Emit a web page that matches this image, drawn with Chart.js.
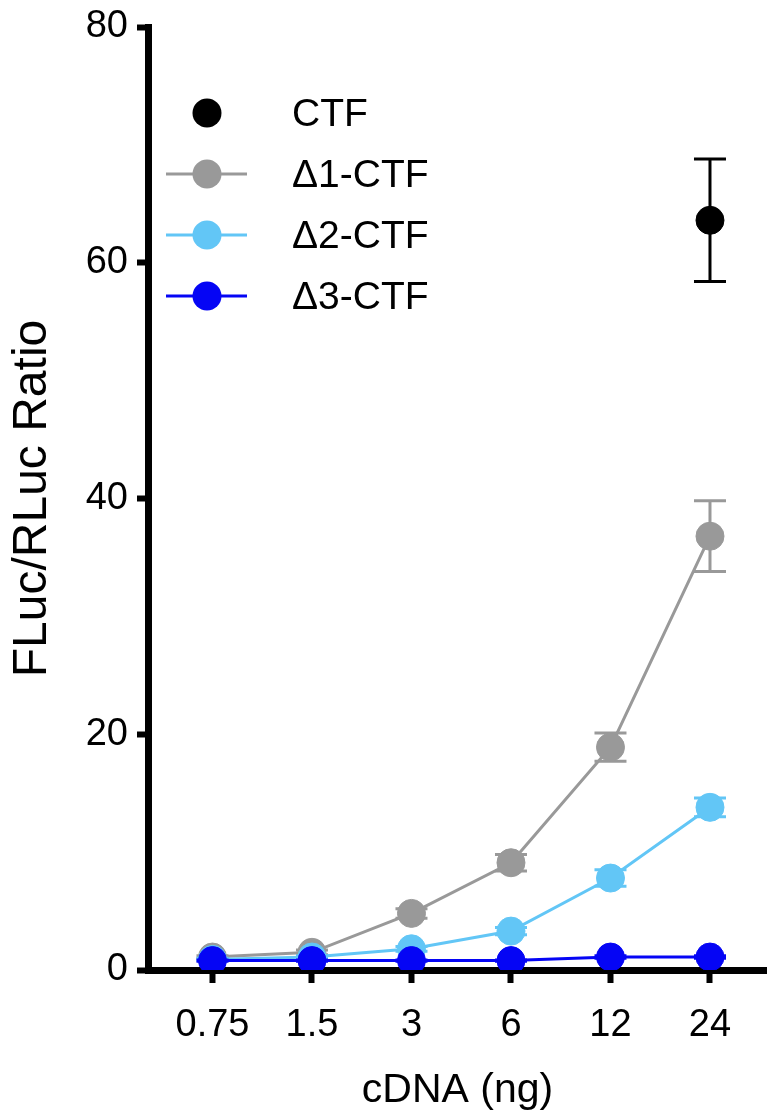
<!DOCTYPE html>
<html>
<head>
<meta charset="utf-8">
<script src="https://cdn.jsdelivr.net/npm/chart.js@4.4.1/dist/chart.umd.min.js"></script>
<style>
  html, body { margin: 0; padding: 0; background: #fff; overflow: hidden; }
  #wrap { width: 767px; height: 1115px; }
  canvas { display: block; }
</style>
</head>
<body>
<div id="wrap"><canvas id="grafica" width="767" height="1115"></canvas></div>
<script>
// datos
const dosis = ['0.75', '1.5', '3', '6', '12', '24'];
const ticksY = [0, 20, 40, 60, 80];

const ctf = [null, null, null, null, null, 63.6];
const ctfErr = [null, null, null, null, null, 5.2];

const d1 = [1.1, 1.5, 4.8, 9.1, 18.9, 36.8];
const d1Err = [0.1, 0.2, 0.4, 0.7, 1.2, 3.0];

const d2 = [0.9, 1.1, 1.8, 3.3, 7.8, 13.8];
const d2Err = [0.1, 0.1, 0.2, 0.3, 0.7, 0.8];

const d3 = [0.8, 0.8, 0.8, 0.8, 1.1, 1.1];
const d3Err = [0.05, 0.05, 0.05, 0.05, 0.1, 0.1];

const fuente = '"Liberation Sans", Arial, Helvetica, sans-serif';

function puntos(valores) {
  return valores.map((v, i) => ({ x: i, y: v }));
}

function serie(etiqueta, valores, errores, color, conLinea, orden) {
  return {
    label: etiqueta,
    data: puntos(valores),
    errores: errores,
    conLinea: conLinea,
    borderColor: color,
    backgroundColor: color,
    pointBackgroundColor: color,
    pointBorderColor: color,
    pointRadius: 14,
    pointBorderWidth: 1,
    pointHoverRadius: 14,
    borderWidth: 3,
    showLine: conLinea,
    tension: 0,
    order: orden
  };
}

// barras de error debajo de cada serie
const barrasError = {
  id: 'barrasError',
  beforeDatasetDraw(chart, args) {
    const ds = chart.data.datasets[args.index];
    if (!ds.errores) return;
    const ctx = chart.ctx;
    const ejeX = chart.scales.x;
    const ejeY = chart.scales.y;
    ctx.save();
    ctx.strokeStyle = ds.borderColor;
    ctx.lineWidth = 3;
    ds.data.forEach((p, i) => {
      const e = ds.errores[i];
      if (p.y === null || e === null) return;
      const px = ejeX.getPixelForValue(p.x);
      const yArriba = ejeY.getPixelForValue(p.y + e);
      const yAbajo = ejeY.getPixelForValue(p.y - e);
      ctx.beginPath();
      ctx.moveTo(px, yArriba);
      ctx.lineTo(px, yAbajo);
      ctx.moveTo(px - 16, yArriba);
      ctx.lineTo(px + 16, yArriba);
      ctx.moveTo(px - 16, yAbajo);
      ctx.lineTo(px + 16, yAbajo);
      ctx.stroke();
    });
    ctx.restore();
  }
};

// leyenda dentro del area del grafico
const leyenda = {
  id: 'leyenda',
  afterDraw(chart) {
    const ctx = chart.ctx;
    ctx.save();
    ctx.font = '39px ' + fuente;
    ctx.textBaseline = 'middle';
    ctx.textAlign = 'left';
    chart.data.datasets.forEach((ds, i) => {
      const y = 113 + i * 61;
      if (ds.conLinea) {
        ctx.strokeStyle = ds.borderColor;
        ctx.lineWidth = 3;
        ctx.beginPath();
        ctx.moveTo(166, y);
        ctx.lineTo(247, y);
        ctx.stroke();
      }
      ctx.fillStyle = ds.backgroundColor;
      ctx.beginPath();
      ctx.arc(207, y, 14.5, 0, Math.PI * 2);
      ctx.fill();
      ctx.fillStyle = '#000';
      ctx.fillText(ds.label, 292, y + 2);
    });
    ctx.restore();
  }
};

const contexto = document.getElementById('grafica').getContext('2d');
const grafico = new Chart(contexto, {
  type: 'scatter',
  data: {
    datasets: [
      serie('CTF', ctf, ctfErr, '#000000', false, 4),
      serie('Δ1-CTF', d1, d1Err, '#999999', true, 3),
      serie('Δ2-CTF', d2, d2Err, '#62c6f6', true, 2),
      serie('Δ3-CTF', d3, d3Err, '#0505f5', true, 1)
    ]
  },
  options: {
    responsive: false,
    animation: false,
    events: [],
    layout: {
      autoPadding: false,
      padding: { top: 27, right: 0, bottom: 0, left: 0 }
    },
    plugins: {
      legend: { display: false },
      tooltip: { enabled: false }
    },
    scales: {
      x: {
        type: 'linear',
        min: -0.648,
        max: 5.573,
        afterBuildTicks: (eje) => { eje.ticks = dosis.map((d, i) => ({ value: i })); },
        afterFit: (eje) => {
          eje.height = 145;
          eje.paddingLeft = 0;
          eje.paddingRight = 0;
        },
        border: { display: true, color: '#000', width: 7 },
        grid: { drawOnChartArea: false, color: '#000', tickColor: '#000', tickLength: 13, tickWidth: 6 },
        ticks: {
          color: '#000',
          font: { family: fuente, size: 38 },
          padding: 20,
          maxRotation: 0,
          autoSkip: false,
          callback: (v) => dosis[v]
        },
        title: {
          display: true,
          text: 'cDNA (ng)',
          color: '#000',
          font: { family: fuente, size: 41 },
          padding: { top: 0, bottom: 0 }
        }
      },
      y: {
        min: 0,
        max: 80,
        afterBuildTicks: (eje) => { eje.ticks = ticksY.map(v => ({ value: v })); },
        afterFit: (eje) => {
          eje.width = 148;
          eje.paddingTop = 0;
          eje.paddingBottom = 0;
        },
        border: { display: true, color: '#000', width: 7 },
        grid: { drawOnChartArea: false, color: '#000', tickColor: '#000', tickLength: 11, tickWidth: 6 },
        ticks: {
          color: '#000',
          font: { family: fuente, size: 38 },
          padding: 9
        },
        title: {
          display: true,
          text: 'FLuc/RLuc Ratio',
          color: '#000',
          font: { family: fuente, size: 48 },
          padding: { top: 4, bottom: 0 }
        }
      }
    }
  },
  plugins: [barrasError, leyenda]
});
</script>
</body>
</html>
